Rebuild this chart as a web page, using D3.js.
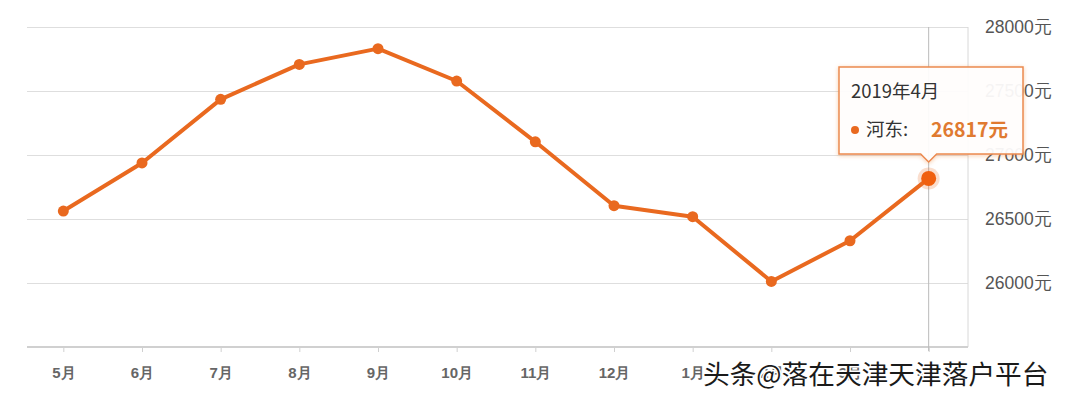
<!DOCTYPE html>
<html>
<head>
<meta charset="utf-8">
<script src="https://cdn.jsdelivr.net/npm/d3@7/dist/d3.min.js"></script>
<style>
  body { margin: 0; background: #fff; }
  svg { display: block; font-family: "Noto Sans CJK SC", "Noto Sans", sans-serif; }
</style>
</head>
<body>
<svg width="1080" height="396"></svg>
<script>
var months = ['5月', '6月', '7月', '8月', '9月', '10月', '11月', '12月', '1月', '2月', '3月', '4月']
var prices = [26562, 26938, 27435, 27708, 27831, 27578, 27103, 26604, 26518, 26012, 26330, 26817]
var yTicks = [26000, 26500, 27000, 27500, 28000]

var tipTitle = '2019年4月'
var tipName = '河东:'
var watermark = '头条@落在天津天津落户平台'

var svg = d3.select('svg')
var orange = '#e9691f'

var x = d3.scalePoint().domain(months).range([24, 968]).padding(0.5)
var y = d3.scaleLinear().domain([25500, 28000]).range([347, 27])

// gridlines + right axis labels
var yAxis = d3.axisRight(y)
    .tickValues(yTicks)
    .tickSize(-(968 - 27))
    .tickPadding(17)
    .tickFormat(d => d + '元')

var gy = svg.append('g')
    .attr('transform', 'translate(968,0)')
    .call(yAxis)
gy.select('.domain').remove()
gy.selectAll('.tick line').attr('stroke', '#dedede')
gy.selectAll('.tick text')
    .attr('fill', '#555')
    .style('font-size', '17.5px')

// right border
svg.append('line')
    .attr('x1', 968).attr('x2', 968)
    .attr('y1', y(28000)).attr('y2', y(25500))
    .attr('stroke', '#d8d8d8')

// x axis
var xAxis = d3.axisBottom(x).tickSize(5).tickSizeOuter(0).tickPadding(15)
var gx = svg.append('g')
    .attr('transform', 'translate(0,' + y(25500) + ')')
    .call(xAxis)
gx.select('.domain').attr('stroke', '#d0d0d0').attr('stroke-width', 2)
    .attr('d', 'M27,0H968')
gx.selectAll('.tick line').attr('stroke', '#d0d0d0')
gx.selectAll('.tick text')
    .attr('fill', '#666')
    .style('font-size', '15px')
    .style('font-weight', 'bold')

// crosshair on last month
var last = months.length - 1
svg.append('line')
    .attr('x1', x(months[last])).attr('x2', x(months[last]))
    .attr('y1', y(28000)).attr('y2', y(25500) + 4)
    .attr('stroke', '#bbb')

var line = d3.line()
    .x((d, i) => x(months[i]))
    .y(d => y(d))

svg.append('path')
    .datum(prices)
    .attr('d', line)
    .attr('fill', 'none')
    .attr('stroke', orange)
    .attr('stroke-width', 4)
    .attr('stroke-linejoin', 'round')

svg.selectAll('circle.pt')
    .data(prices.slice(0, last))
    .enter().append('circle')
    .attr('class', 'pt')
    .attr('cx', (d, i) => x(months[i]))
    .attr('cy', d => y(d))
    .attr('r', 5.5)
    .attr('fill', orange)

// highlighted point
svg.append('circle')
    .attr('cx', x(months[last])).attr('cy', y(prices[last]))
    .attr('r', 11)
    .attr('fill', orange).attr('opacity', 0.22)
svg.append('circle')
    .attr('cx', x(months[last])).attr('cy', y(prices[last]))
    .attr('r', 7.5)
    .attr('fill', '#f0600f')

// tooltip
var tx = x(months[last])
var box = { l: 839, t: 67, r: 1023, b: 154 }
var tipPath = 'M' + box.l + ',' + box.t + 'H' + box.r + 'V' + box.b +
    'H' + (tx + 8) + 'L' + tx + ',' + (box.b + 8) + 'L' + (tx - 8) + ',' + box.b +
    'H' + box.l + 'Z'
var defs = svg.append('defs')
var f = defs.append('filter').attr('id', 'sh').attr('x', '-10%').attr('y', '-10%')
    .attr('width', '120%').attr('height', '130%')
f.append('feDropShadow').attr('dx', 0).attr('dy', 1).attr('stdDeviation', 2)
    .attr('flood-color', '#e9691f').attr('flood-opacity', 0.35)

var tip = svg.append('g')
tip.append('path')
    .attr('d', tipPath)
    .attr('fill', '#fff')
    .attr('fill-opacity', 0.92)
    .attr('stroke', '#ec8a4f')
    .attr('stroke-width', 1.5)
    .attr('filter', 'url(#sh)')
tip.append('text')
    .attr('x', 851).attr('y', 98)
    .attr('fill', '#333')
    .style('font-size', '18.5px')
    .text(tipTitle)
tip.append('circle')
    .attr('cx', 855).attr('cy', 130).attr('r', 4)
    .attr('fill', orange)
tip.append('text')
    .attr('x', 866).attr('y', 136)
    .attr('fill', '#333')
    .style('font-size', '18.5px')
    .text(tipName)
tip.append('text')
    .attr('x', 931).attr('y', 137)
    .attr('fill', '#e07a30')
    .style('font-size', '19.5px')
    .style('font-weight', 'bold')
    .text(prices[last] + '元')

// watermark
svg.append('text')
    .attr('x', 703).attr('y', 384)
    .attr('fill', '#1a1a1a')
    .attr('stroke', '#fff')
    .attr('stroke-width', 3)
    .attr('paint-order', 'stroke')
    .style('font-size', '26.7px')
    .text(watermark)
</script>
</body>
</html>
